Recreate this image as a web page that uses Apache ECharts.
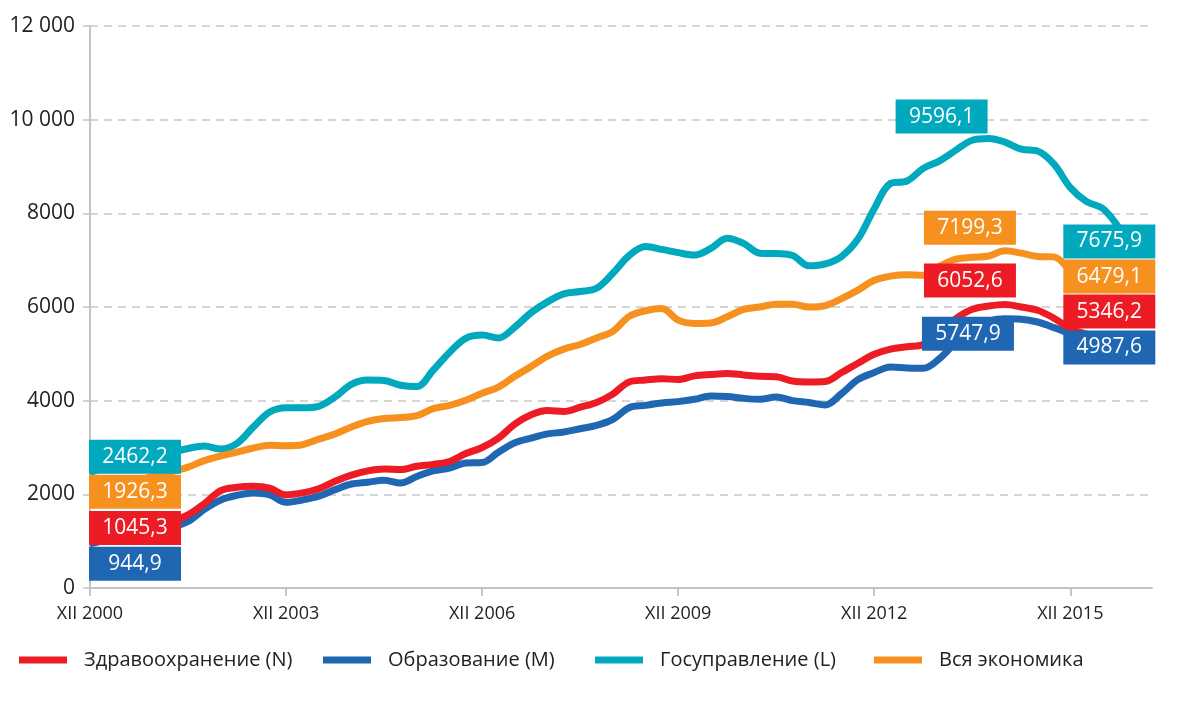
<!DOCTYPE html>
<html><head><meta charset="utf-8">
<script src="https://cdn.jsdelivr.net/npm/echarts@6/dist/echarts.min.js"></script>
<style>html,body{margin:0;padding:0;background:#fff}#c{width:1200px;height:707px}</style>
</head><body><div id="c"></div>
<script>
// months since XII 2000 (quarterly)
const months = [0,3,6,9,12,15,18,21,24,27,30,33,36,39,42,45,48,51,54,57,60,63,66,69,72,75,78,81,84,87,90,93,96,99,102,105,108,111,114,117,120,123,126,129,132,135,138,141,144,147,150,153,156,159,162,165,168,171,174,177,180,183,186,189];
const xTickMonths = [0,36,72,108,144,180];
const xTickLabels = ['XII 2000','XII 2003','XII 2006','XII 2009','XII 2012','XII 2015'];
const seriesNames = ['Здравоохранение (N)','Образование (M)','Госуправление (L)','Вся экономика'];

const health = [1045.3,1130,1220,1300,1360,1420,1560,1800,2080,2150,2170,2130,1990,2030,2120,2280,2410,2500,2540,2530,2600,2640,2700,2870,3000,3200,3500,3700,3790,3770,3860,3960,4140,4400,4440,4470,4450,4530,4560,4580,4550,4520,4510,4420,4400,4410,4600,4800,4990,5100,5150,5200,5450,5750,5950,6020,6052.6,6000,5930,5760,5540,5420,5370,5346.2];
const education = [944.9,1020,1100,1170,1230,1300,1420,1680,1880,1980,2030,1990,1830,1880,1960,2100,2220,2260,2300,2240,2380,2500,2560,2670,2680,2900,3100,3200,3290,3330,3400,3470,3600,3850,3900,3950,3980,4030,4100,4090,4050,4030,4080,4000,3960,3910,4150,4450,4600,4720,4700,4690,4900,5250,5550,5700,5747.9,5740,5680,5560,5420,5200,5050,4987.6];
const government = [2462.2,2600,2720,2800,2860,2900,2980,3030,2970,3090,3440,3760,3850,3850,3880,4080,4350,4440,4430,4330,4300,4650,5030,5330,5400,5340,5570,5880,6110,6280,6330,6400,6720,7100,7290,7230,7160,7110,7250,7470,7360,7150,7140,7100,6880,6920,7080,7450,8100,8640,8690,8960,9120,9350,9560,9596.1,9520,9370,9330,9050,8550,8250,8100,7675.9];
const economy = [1926.3,2050,2180,2300,2400,2480,2580,2720,2820,2900,2990,3050,3040,3060,3180,3290,3440,3560,3620,3640,3680,3830,3900,4010,4160,4290,4520,4730,4950,5100,5200,5340,5480,5800,5920,5970,5720,5650,5660,5790,5950,6000,6060,6060,6000,6030,6180,6360,6570,6660,6690,6680,6870,7020,7060,7090,7199.3,7150,7080,7070,6800,6650,6550,6479.1];

const colors = ['#ED1C24','#1F66B3','#00A9BD','#F6901E'];
const valuesList = [health, education, government, economy];
// label box offsets (pixels from the data point): start, peak, end
const startOff = [[45,-11],[45,20],[45,-16],[45,-6]];
const peakOff  = [[-35,-24],[-37,15],[-47,-22],[-35,-23]];
const endOff   = [[-10,-26],[-10,-7],[-10,13],[-10,-8]];

const fmt = v => v.toFixed(1).replace('.', ',');
const yFmt = v => v >= 10000 ? (Math.floor(v/1000) + ' ' + String(v%1000).padStart(3,'0')) : String(v);

const FONT = 'Open Sans';

const series = valuesList.map((vals, i) => {
  const n = vals.length;
  const peakIdx = vals.indexOf(Math.max(...vals));
  const mk = (idx, off) => ({
    coord: [months[idx], vals[idx]],
    value: fmt(vals[idx]),
    symbolOffset: off
  });
  return {
    name: seriesNames[i],
    type: 'line',
    smooth: 0.35,
    showSymbol: false,
    lineStyle: { width: 7, color: colors[i] },
    itemStyle: { color: colors[i] },
    z: [3,2,4,5][i],
    data: months.map((m, k) => [m, vals[k]]),
    markPoint: {
      symbol: 'rect',
      symbolSize: [92, 34],
      itemStyle: { color: colors[i] },
      z: 10,
      label: { show: true, position: 'inside', color: '#fff', fontFamily: FONT, fontSize: 21, formatter: p => p.value },
      data: [mk(0, startOff[i]), mk(peakIdx, peakOff[i]), mk(n-1, endOff[i])]
    }
  };
});

const legendLefts = [14, 318, 590, 869];
const legends = seriesNames.map((nm, i) => ({
  data: [nm],
  left: legendLefts[i],
  top: 645,
  icon: 'rect',
  itemWidth: 48,
  itemHeight: 7,
  selectedMode: false,
  textStyle: { fontFamily: FONT, fontSize: 20, color: '#222', padding: [0,0,0,12] }
}));

const chart = echarts.init(document.getElementById('c'));
chart.setOption({
  animation: false,
  backgroundColor: '#fff',
  color: colors,
  grid: { left: 90, right: 48, top: 26, bottom: 119, containLabel: false },
  legend: legends,
  xAxis: {
    type: 'value', min: 0, max: 195,
    axisLine: { show: true, lineStyle: { color: '#c4c4c4', width: 2 } },
    axisTick: { show: true, length: 8, lineStyle: { color: '#c4c4c4', width: 2 }, customValues: xTickMonths },
    axisLabel: { customValues: xTickMonths, formatter: v => xTickLabels[xTickMonths.indexOf(v)] || '', fontFamily: FONT, fontSize: 18, color: '#222', margin: 17 },
    splitLine: { show: false }
  },
  yAxis: {
    type: 'value', min: 0, max: 12000, interval: 2000,
    axisLine: { show: true, lineStyle: { color: '#c4c4c4', width: 2 } },
    axisTick: { show: true, length: 7, lineStyle: { color: '#c4c4c4', width: 1.5 } },
    axisLabel: { formatter: yFmt, fontFamily: FONT, fontSize: 21, color: '#222', margin: 15 },
    splitLine: { show: true, lineStyle: { color: '#c8c8c8', width: 1.5, type: [8, 6] } }
  },
  series: series
});
</script>
</body></html>
